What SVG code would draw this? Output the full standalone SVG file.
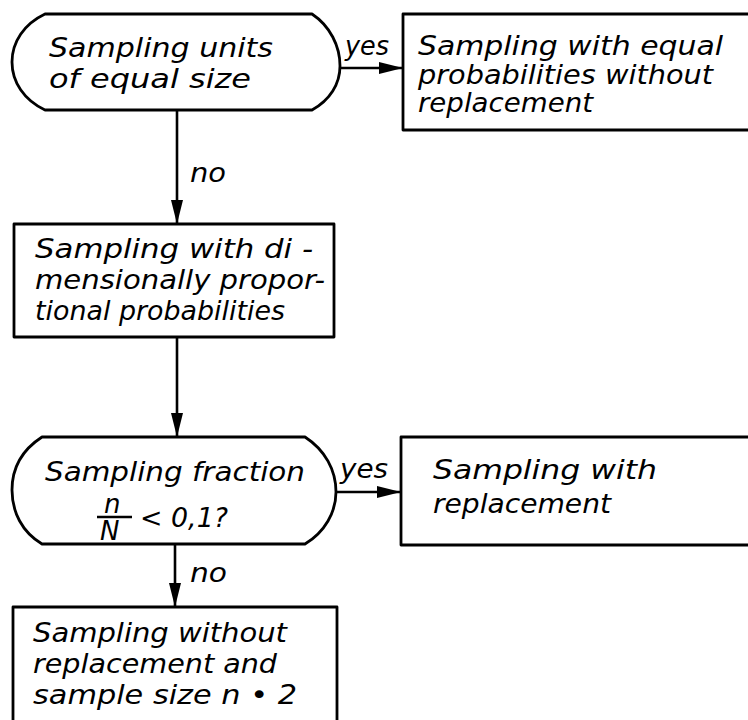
<svg xmlns="http://www.w3.org/2000/svg" width="748" height="720" viewBox="0 0 748 720">
<style>
.shape{fill:none;stroke:#000;stroke-width:2.8;stroke-linejoin:round}
.conn{fill:none;stroke:#000;stroke-width:2.6}
.t{font-family:"DejaVu Sans","Liberation Sans",sans-serif;font-style:italic;font-size:27px;fill:#000}
.lbl{font-family:"DejaVu Sans","Liberation Sans",sans-serif;font-style:italic;font-size:26px;fill:#000}
.sm{font-family:"DejaVu Sans","Liberation Sans",sans-serif;font-style:italic;font-size:26px;fill:#000}
</style>
<defs>
<marker id="ah" markerUnits="userSpaceOnUse" markerWidth="24" markerHeight="12" refX="24" refY="6" orient="auto">
<path d="M0,0 L24,6 L0,12 Z" fill="#000"/>
</marker>
</defs>
<rect width="748" height="720" fill="#fff"/>
<g id="connectors">
<line class="conn" x1="340" y1="68" x2="403" y2="68" marker-end="url(#ah)"/>
<line class="conn" x1="177" y1="110" x2="177" y2="224" marker-end="url(#ah)"/>
<line class="conn" x1="177" y1="337" x2="177" y2="437" marker-end="url(#ah)"/>
<line class="conn" x1="336" y1="492" x2="401" y2="492" marker-end="url(#ah)"/>
<line class="conn" x1="175" y1="544" x2="175" y2="607" marker-end="url(#ah)"/>
<text class="lbl" x="345" y="55" textLength="44" lengthAdjust="spacingAndGlyphs">yes</text>
<text class="lbl" x="190" y="182" textLength="36" lengthAdjust="spacingAndGlyphs">no</text>
<text class="lbl" x="340" y="478" textLength="48" lengthAdjust="spacingAndGlyphs">yes</text>
<text class="lbl" x="190" y="582" textLength="37" lengthAdjust="spacingAndGlyphs">no</text>
</g>
<g id="node-equal-size">
<path class="shape" d="M45 14 L312 14 C330 26 340 46 340 66 C340 84 330 100 312 110 L45 110 C24 100 12 82 12 62 C12 42 24 24 45 14 Z"/>
<text class="t" x="49" y="57" textLength="224" lengthAdjust="spacingAndGlyphs">Sampling units</text>
<text class="t" x="49" y="88" textLength="202" lengthAdjust="spacingAndGlyphs">of equal size</text>
</g>
<g id="node-equal-prob">
<rect class="shape" x="403" y="14" width="360" height="116"/>
<text class="t" x="418" y="55" textLength="305" lengthAdjust="spacingAndGlyphs">Sampling with equal</text>
<text class="t" x="418" y="84" textLength="295" lengthAdjust="spacingAndGlyphs">probabilities without</text>
<text class="t" x="418" y="112" textLength="175" lengthAdjust="spacingAndGlyphs">replacement</text>
</g>
<g id="node-prop-prob">
<rect class="shape" x="14" y="224" width="320" height="113"/>
<text class="t" x="35" y="258" textLength="278" lengthAdjust="spacingAndGlyphs">Sampling with di -</text>
<text class="t" x="35" y="289" textLength="290" lengthAdjust="spacingAndGlyphs">mensionally propor-</text>
<text class="t" x="35" y="320" textLength="250" lengthAdjust="spacingAndGlyphs">tional probabilities</text>
</g>
<g id="node-fraction">
<path class="shape" d="M42 437 L305 437 C325 450 336 470 336 492 C336 512 325 532 305 544 L42 544 C22 532 12 512 12 490 C12 468 22 450 42 437 Z"/>
<text class="t" x="45" y="481" textLength="260" lengthAdjust="spacingAndGlyphs">Sampling fraction</text>
<text class="sm" x="104" y="513">n</text>
<line x1="97" y1="517" x2="132" y2="517" stroke="#000" stroke-width="2.6"/>
<text class="sm" x="100" y="540">N</text>
<text class="t" x="140" y="527" textLength="88" lengthAdjust="spacingAndGlyphs">&lt; 0,1?</text>
</g>
<g id="node-with-repl">
<rect class="shape" x="401" y="437" width="360" height="108"/>
<text class="t" x="433" y="479" textLength="224" lengthAdjust="spacingAndGlyphs">Sampling with</text>
<text class="t" x="433" y="513" textLength="178" lengthAdjust="spacingAndGlyphs">replacement</text>
</g>
<g id="node-without-repl">
<rect class="shape" x="13" y="607" width="324" height="130"/>
<text class="t" x="33" y="642" textLength="254" lengthAdjust="spacingAndGlyphs">Sampling without</text>
<text class="t" x="33" y="673" textLength="244" lengthAdjust="spacingAndGlyphs">replacement and</text>
<text class="t" x="33" y="704" textLength="264" lengthAdjust="spacingAndGlyphs">sample size n • 2</text>
</g>
</svg>
